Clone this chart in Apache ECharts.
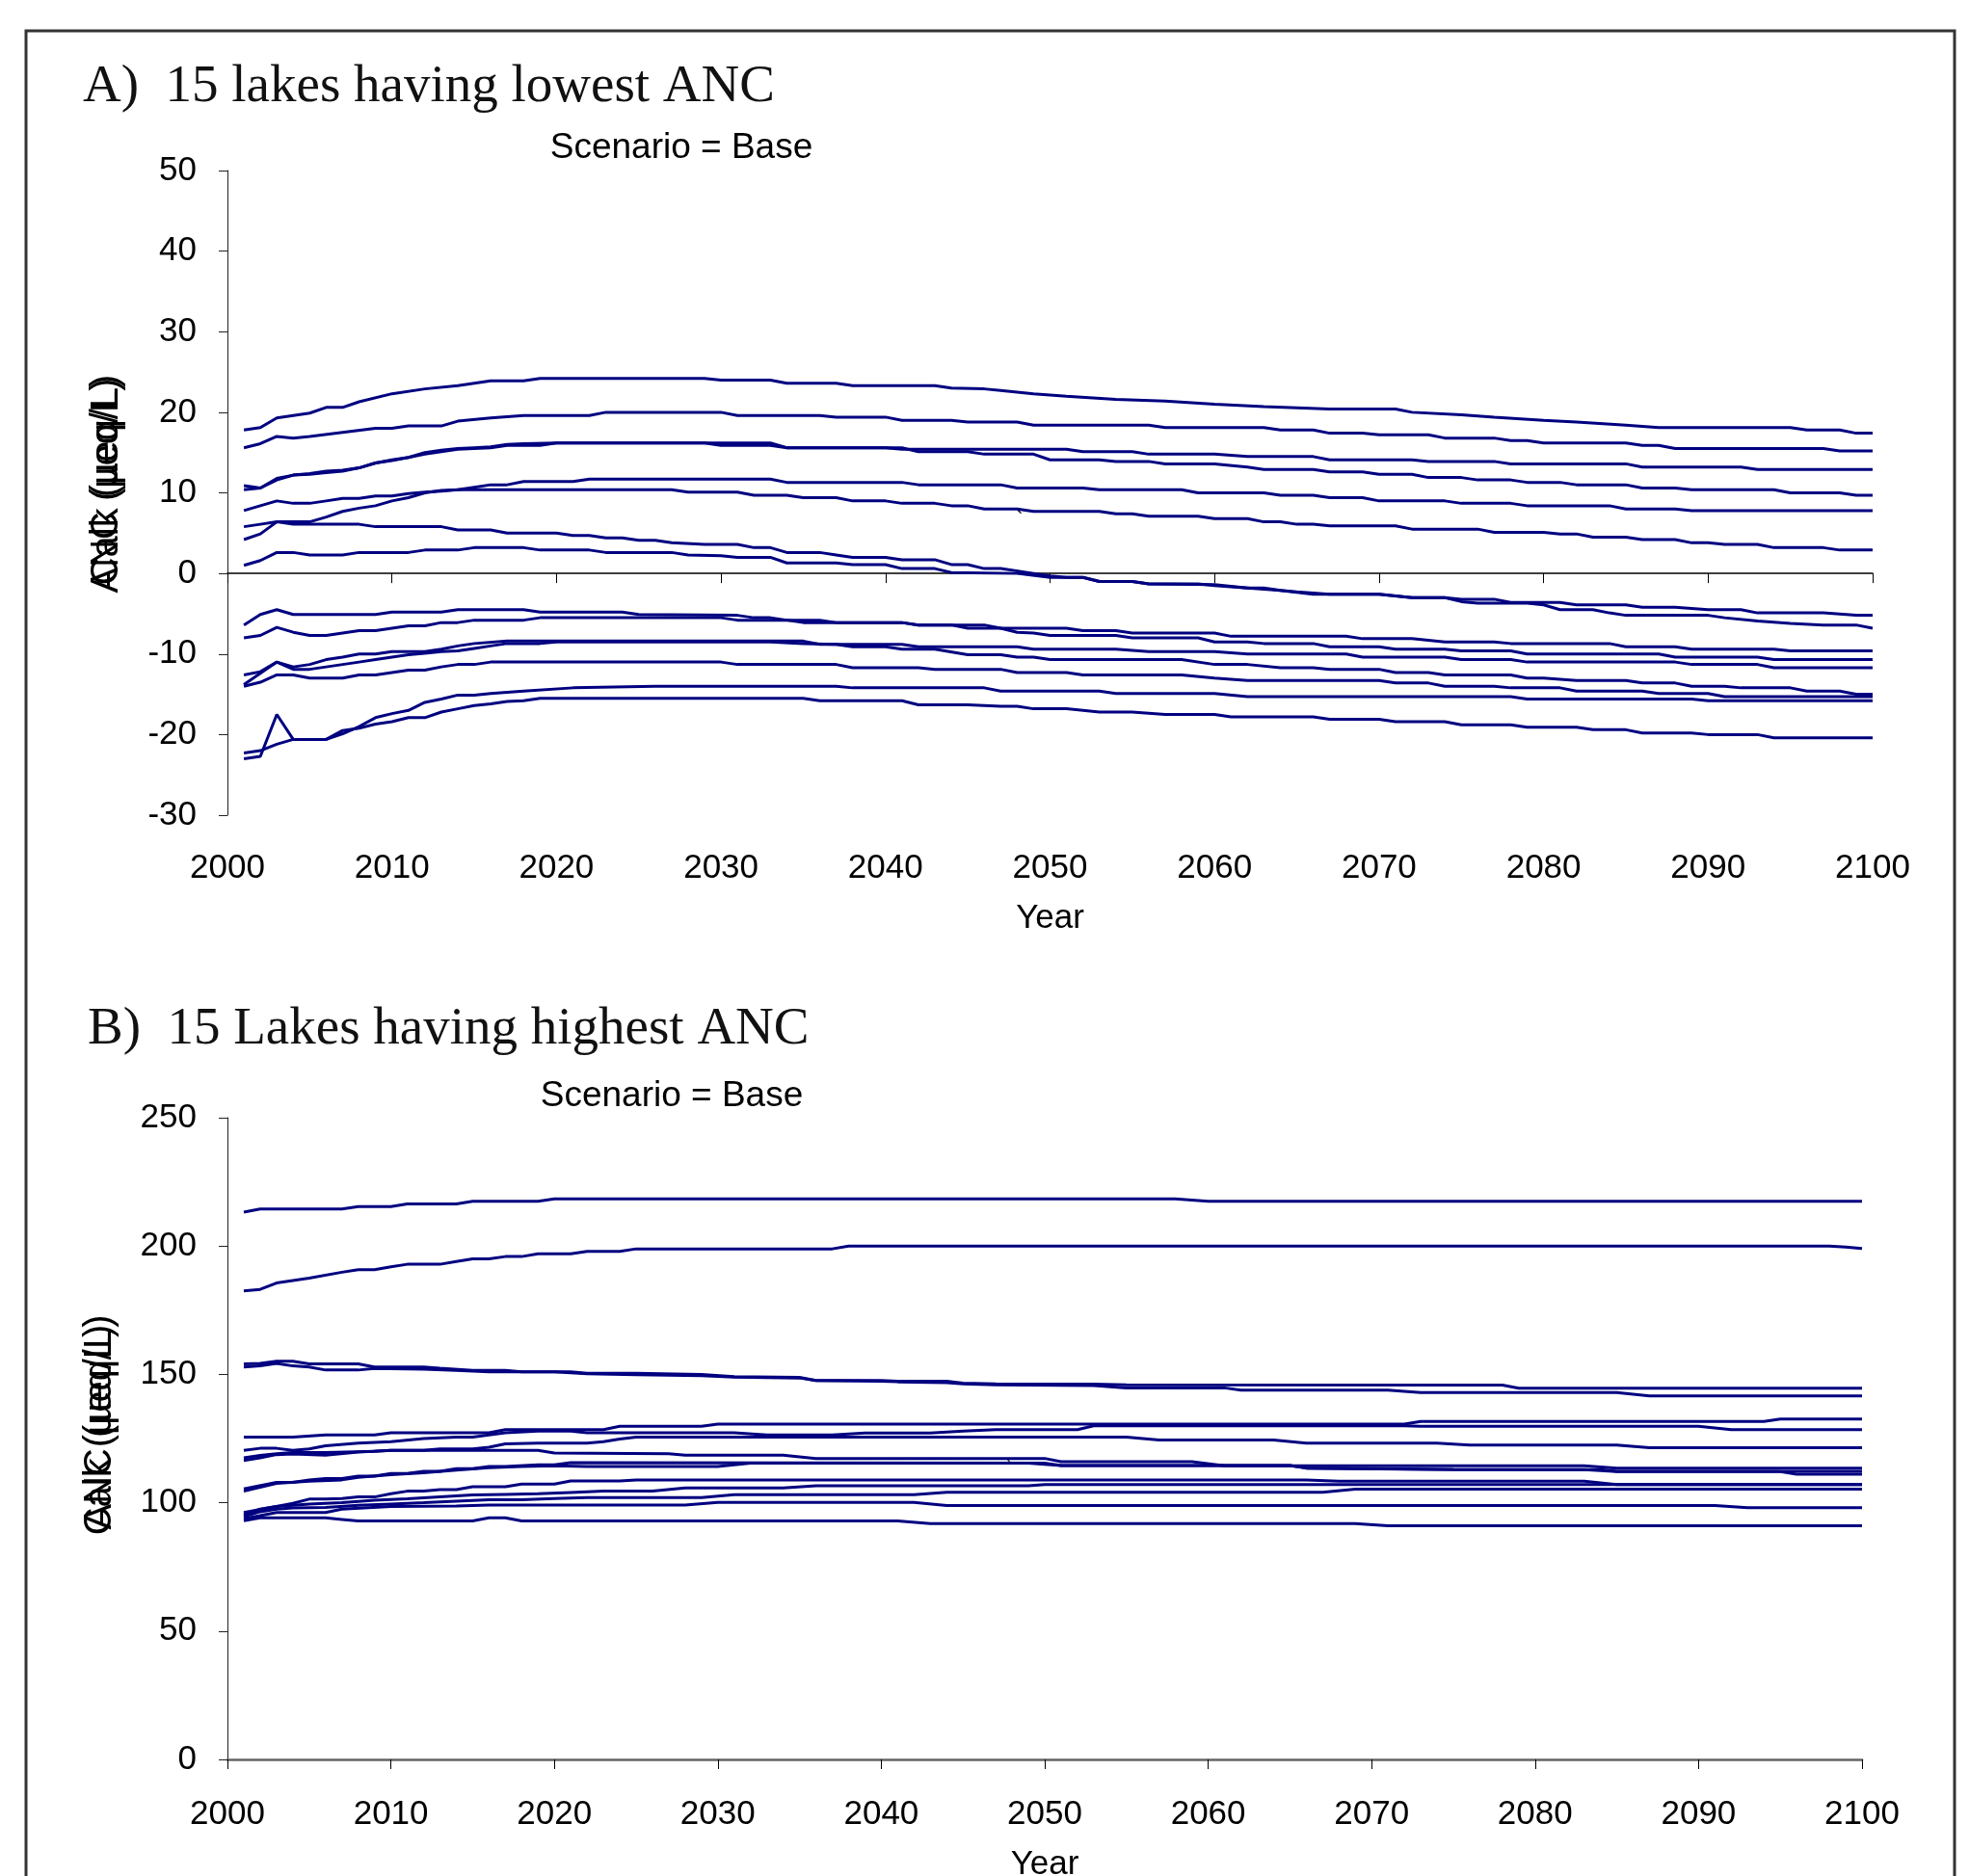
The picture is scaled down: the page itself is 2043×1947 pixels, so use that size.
<!DOCTYPE html>
<html><head><meta charset="utf-8">
<script src="https://cdn.jsdelivr.net/npm/echarts@6/dist/echarts.min.js"></script>
<style>html,body{margin:0;padding:0;background:#fff}#c{width:2043px;height:1947px}</style>
</head><body><div id="c"></div><script>
// ---------- Panel A: 15 lakes having lowest ANC (year, ANC µeq/L) ----------
const lowAnc1 = [[2001,17.8],[2002,18.1],[2003,19.3],[2005,19.9],[2006,20.6],[2007,20.6],[2008,21.3],[2010,22.3],[2012,22.9],[2014,23.3],[2016,23.9],[2018,23.9],[2019,24.2],[2029,24.2],[2030,24.0],[2033,24.0],[2034,23.6],[2037,23.6],[2038,23.3],[2043,23.3],[2044,23.0],[2046,22.9],[2047,22.7],[2049,22.3],[2051,22.0],[2054,21.6],[2057,21.4],[2060,21.0],[2063,20.7],[2067,20.4],[2071,20.4],[2072,20.0],[2075,19.7],[2077,19.4],[2080,19.0],[2082,18.8],[2085,18.4],[2087,18.1],[2095,18.1],[2096,17.8],[2098,17.8],[2099,17.4],[2100,17.4]];
const lowAnc2 = [[2001,15.6],[2002,16.1],[2003,17.0],[2004,16.8],[2005,17.0],[2007,17.5],[2009,18.0],[2010,18.0],[2011,18.3],[2013,18.3],[2014,18.9],[2016,19.3],[2018,19.6],[2022,19.6],[2023,20.0],[2030,20.0],[2031,19.6],[2036,19.6],[2037,19.4],[2040,19.4],[2041,19.0],[2044,19.0],[2045,18.8],[2048,18.8],[2049,18.4],[2056,18.4],[2057,18.1],[2063,18.1],[2064,17.8],[2066,17.8],[2067,17.4],[2069,17.4],[2070,17.2],[2073,17.2],[2074,16.8],[2077,16.8],[2078,16.5],[2079,16.5],[2080,16.2],[2085,16.2],[2086,15.9],[2087,15.9],[2088,15.5],[2097,15.5],[2098,15.2],[2100,15.2]];
const lowAnc3 = [[2001,10.9],[2002,10.6],[2003,11.8],[2004,12.2],[2005,12.4],[2006,12.7],[2007,12.8],[2008,13.1],[2009,13.7],[2010,14.1],[2011,14.4],[2012,15.0],[2013,15.3],[2014,15.5],[2015,15.6],[2016,15.7],[2017,16.0],[2018,16.1],[2020,16.2],[2033,16.2],[2034,15.6],[2040,15.6],[2041,15.4],[2051,15.4],[2052,15.1],[2055,15.1],[2056,14.8],[2060,14.8],[2062,14.5],[2066,14.5],[2067,14.1],[2072,14.1],[2073,13.9],[2077,13.9],[2078,13.6],[2085,13.6],[2086,13.2],[2092,13.2],[2093,12.9],[2100,12.9]];
const lowAnc4 = [[2001,10.4],[2002,10.6],[2003,11.6],[2004,12.2],[2005,12.3],[2006,12.5],[2007,12.7],[2008,13.1],[2009,13.7],[2010,14.0],[2011,14.4],[2012,14.8],[2013,15.1],[2014,15.4],[2015,15.5],[2016,15.6],[2017,15.9],[2019,15.9],[2020,16.2],[2029,16.2],[2030,15.9],[2033,15.9],[2034,15.6],[2041,15.6],[2042,15.1],[2045,15.1],[2046,14.8],[2049,14.8],[2050,14.1],[2053,14.1],[2054,13.9],[2056,13.9],[2057,13.6],[2060,13.6],[2062,13.2],[2063,12.9],[2066,12.9],[2067,12.6],[2069,12.6],[2070,12.3],[2072,12.3],[2073,11.9],[2075,11.9],[2076,11.6],[2078,11.6],[2079,11.3],[2081,11.3],[2082,11.0],[2085,11.0],[2086,10.6],[2088,10.6],[2089,10.4],[2094,10.4],[2095,10.0],[2098,10.0],[2099,9.7],[2100,9.7]];
const lowAnc5 = [[2001,7.8],[2002,8.4],[2003,9.0],[2004,8.7],[2005,8.7],[2006,9.0],[2007,9.3],[2008,9.3],[2009,9.6],[2010,9.6],[2011,9.9],[2012,10.1],[2013,10.2],[2014,10.4],[2027,10.4],[2028,10.1],[2031,10.1],[2032,9.7],[2034,9.7],[2035,9.4],[2037,9.4],[2038,9.0],[2040,9.0],[2041,8.7],[2043,8.7],[2044,8.4],[2045,8.4],[2046,8.0],[2048,8.0],[2049,7.7],[2053,7.7],[2054,7.4],[2055,7.4],[2056,7.1],[2059,7.1],[2060,6.8],[2062,6.8],[2063,6.4],[2064,6.4],[2065,6.1],[2066,6.1],[2067,5.9],[2071,5.9],[2072,5.5],[2076,5.5],[2077,5.1],[2080,5.1],[2081,4.9],[2082,4.9],[2083,4.5],[2085,4.5],[2086,4.2],[2088,4.2],[2089,3.8],[2090,3.8],[2091,3.6],[2093,3.6],[2094,3.2],[2097,3.2],[2098,2.9],[2100,2.9]];
const lowAnc6 = [[2001,4.2],[2002,4.9],[2003,6.4],[2005,6.4],[2006,7.0],[2007,7.7],[2008,8.1],[2009,8.4],[2010,9.0],[2011,9.4],[2012,10.0],[2013,10.3],[2014,10.4],[2015,10.7],[2016,11.0],[2017,11.0],[2018,11.4],[2021,11.4],[2022,11.7],[2033,11.7],[2034,11.3],[2041,11.3],[2042,11.0],[2047,11.0],[2048,10.6],[2052,10.6],[2053,10.4],[2058,10.4],[2059,10.0],[2063,10.0],[2064,9.7],[2066,9.7],[2067,9.4],[2069,9.4],[2070,9.0],[2074,9.0],[2075,8.7],[2078,8.7],[2079,8.4],[2084,8.4],[2085,8.0],[2088,8.0],[2089,7.8],[2100,7.8]];
const lowAnc7 = [[2001,5.8],[2002,6.1],[2003,6.4],[2004,6.1],[2008,6.1],[2009,5.8],[2013,5.8],[2014,5.4],[2016,5.4],[2017,5.0],[2020,5.0],[2021,4.7],[2022,4.7],[2023,4.4],[2024,4.4],[2025,4.1],[2026,4.1],[2027,3.8],[2029,3.6],[2031,3.6],[2032,3.2],[2033,3.2],[2034,2.6],[2036,2.6],[2037,2.3],[2038,2.0],[2040,2.0],[2041,1.7],[2043,1.7],[2044,1.1],[2045,1.1],[2046,0.6],[2047,0.6],[2049,0.0],[2050,-0.3],[2051,-0.5],[2052,-0.5],[2053,-1.0],[2055,-1.0],[2056,-1.3],[2060,-1.4],[2062,-1.8],[2063,-1.8],[2064,-2.1],[2065,-2.3],[2067,-2.6],[2070,-2.6],[2072,-3.0],[2074,-3.0],[2075,-3.2],[2077,-3.2],[2078,-3.6],[2081,-3.6],[2082,-3.9],[2085,-3.9],[2086,-4.2],[2088,-4.2],[2090,-4.5],[2092,-4.5],[2093,-4.9],[2097,-4.9],[2099,-5.2],[2100,-5.2]];
const lowAnc8 = [[2001,1.0],[2002,1.6],[2003,2.6],[2004,2.6],[2005,2.3],[2007,2.3],[2008,2.6],[2011,2.6],[2012,2.9],[2014,2.9],[2015,3.2],[2018,3.2],[2019,2.9],[2022,2.9],[2023,2.6],[2027,2.6],[2028,2.3],[2030,2.2],[2031,2.0],[2033,2.0],[2034,1.3],[2037,1.3],[2038,1.1],[2040,1.1],[2041,0.6],[2043,0.6],[2044,0.1],[2048,0.0],[2050,-0.5],[2052,-0.5],[2053,-1.0],[2055,-1.0],[2056,-1.3],[2059,-1.3],[2060,-1.5],[2062,-1.8],[2064,-2.1],[2066,-2.6],[2070,-2.6],[2072,-3.0],[2074,-3.0],[2075,-3.5],[2076,-3.7],[2079,-3.7],[2080,-3.9],[2081,-4.5],[2083,-4.5],[2084,-4.9],[2085,-5.2],[2090,-5.2],[2091,-5.5],[2093,-5.9],[2095,-6.2],[2097,-6.4],[2099,-6.4],[2100,-6.8]];
const lowAnc9 = [[2001,-6.4],[2002,-5.1],[2003,-4.5],[2004,-5.1],[2009,-5.1],[2010,-4.8],[2013,-4.8],[2014,-4.5],[2018,-4.5],[2019,-4.8],[2024,-4.8],[2025,-5.1],[2031,-5.2],[2032,-5.5],[2033,-5.5],[2034,-5.8],[2035,-6.1],[2041,-6.1],[2042,-6.4],[2046,-6.4],[2047,-6.8],[2051,-6.8],[2052,-7.1],[2054,-7.1],[2055,-7.4],[2060,-7.4],[2061,-7.8],[2068,-7.8],[2069,-8.1],[2072,-8.1],[2074,-8.5],[2077,-8.5],[2078,-8.7],[2084,-8.7],[2085,-9.1],[2088,-9.1],[2089,-9.4],[2094,-9.4],[2095,-9.6],[2100,-9.6]];
const lowAnc10 = [[2001,-8.0],[2002,-7.7],[2003,-6.7],[2004,-7.3],[2005,-7.7],[2006,-7.7],[2007,-7.4],[2008,-7.1],[2009,-7.1],[2010,-6.8],[2011,-6.5],[2012,-6.5],[2013,-6.1],[2014,-6.1],[2015,-5.8],[2018,-5.8],[2019,-5.5],[2030,-5.5],[2031,-5.8],[2036,-5.8],[2037,-6.1],[2041,-6.1],[2042,-6.4],[2044,-6.4],[2045,-6.8],[2047,-6.8],[2048,-7.3],[2049,-7.4],[2050,-7.7],[2054,-7.7],[2055,-8.0],[2059,-8.0],[2060,-8.5],[2062,-8.5],[2063,-8.7],[2066,-8.7],[2067,-9.1],[2070,-9.1],[2071,-9.4],[2074,-9.4],[2075,-9.6],[2078,-9.6],[2079,-10.0],[2087,-10.0],[2088,-10.4],[2093,-10.4],[2094,-10.7],[2100,-10.7]];
const lowAnc11 = [[2001,-12.6],[2002,-12.2],[2003,-11.0],[2004,-11.6],[2005,-11.3],[2006,-10.7],[2007,-10.4],[2008,-10.0],[2009,-10.0],[2010,-9.7],[2012,-9.7],[2013,-9.4],[2014,-9.0],[2015,-8.7],[2017,-8.4],[2035,-8.4],[2036,-8.8],[2041,-8.8],[2042,-9.1],[2048,-9.1],[2049,-9.4],[2054,-9.4],[2056,-9.7],[2060,-9.7],[2062,-10.0],[2068,-10.0],[2069,-10.4],[2074,-10.4],[2075,-10.7],[2078,-10.7],[2079,-11.0],[2088,-11.0],[2089,-11.3],[2093,-11.3],[2094,-11.7],[2100,-11.7]];
const lowAnc12 = [[2001,-13.8],[2002,-12.4],[2003,-11.0],[2004,-11.9],[2005,-11.9],[2006,-11.6],[2007,-11.3],[2008,-11.0],[2009,-10.7],[2010,-10.4],[2011,-10.1],[2012,-9.9],[2013,-9.7],[2014,-9.6],[2015,-9.3],[2016,-9.0],[2017,-8.7],[2019,-8.7],[2020,-8.5],[2033,-8.5],[2035,-8.7],[2037,-8.8],[2038,-9.1],[2040,-9.1],[2041,-9.4],[2043,-9.4],[2045,-10.1],[2047,-10.1],[2048,-10.4],[2049,-10.4],[2050,-10.7],[2058,-10.7],[2060,-11.3],[2062,-11.3],[2064,-11.7],[2066,-11.7],[2067,-11.9],[2070,-11.9],[2071,-12.3],[2073,-12.3],[2074,-12.6],[2078,-12.6],[2079,-13.0],[2080,-13.0],[2082,-13.3],[2085,-13.3],[2086,-13.6],[2088,-13.6],[2089,-14.0],[2091,-14.0],[2092,-14.2],[2095,-14.2],[2096,-14.6],[2098,-14.6],[2099,-15.0],[2100,-15.0]];
const lowAnc13 = [[2001,-14.0],[2002,-13.5],[2003,-12.6],[2004,-12.6],[2005,-13.0],[2007,-13.0],[2008,-12.6],[2009,-12.6],[2010,-12.3],[2011,-12.0],[2012,-12.0],[2013,-11.6],[2014,-11.3],[2015,-11.3],[2016,-11.0],[2030,-11.0],[2031,-11.3],[2037,-11.3],[2038,-11.7],[2042,-11.7],[2043,-11.9],[2047,-11.9],[2048,-12.3],[2051,-12.3],[2052,-12.6],[2058,-12.6],[2060,-13.0],[2062,-13.3],[2070,-13.3],[2071,-13.6],[2073,-13.6],[2074,-14.0],[2077,-14.0],[2078,-14.2],[2081,-14.2],[2082,-14.6],[2086,-14.6],[2087,-14.9],[2090,-14.9],[2091,-15.3],[2100,-15.3]];
const lowAnc14 = [[2001,-22.3],[2002,-22.0],[2003,-21.2],[2004,-20.6],[2006,-20.6],[2007,-19.5],[2008,-19.2],[2009,-18.7],[2010,-18.4],[2011,-17.9],[2012,-17.9],[2013,-17.2],[2014,-16.8],[2015,-16.4],[2016,-16.2],[2017,-15.9],[2018,-15.8],[2019,-15.5],[2035,-15.5],[2036,-15.8],[2041,-15.8],[2042,-16.3],[2045,-16.3],[2047,-16.5],[2048,-16.5],[2049,-16.8],[2051,-16.8],[2053,-17.2],[2055,-17.2],[2057,-17.5],[2060,-17.5],[2061,-17.8],[2066,-17.8],[2067,-18.1],[2070,-18.1],[2071,-18.4],[2074,-18.4],[2075,-18.8],[2078,-18.8],[2079,-19.1],[2082,-19.1],[2083,-19.4],[2085,-19.4],[2086,-19.8],[2089,-19.8],[2090,-20.0],[2093,-20.0],[2094,-20.4],[2100,-20.4]];
const lowAnc15 = [[2001,-23.0],[2002,-22.7],[2003,-17.5],[2004,-20.6],[2006,-20.6],[2007,-19.9],[2008,-19.0],[2009,-17.9],[2010,-17.4],[2011,-17.0],[2012,-16.0],[2013,-15.6],[2014,-15.1],[2015,-15.1],[2016,-14.9],[2018,-14.6],[2021,-14.2],[2026,-14.0],[2037,-14.0],[2038,-14.2],[2046,-14.2],[2047,-14.6],[2053,-14.6],[2054,-14.9],[2060,-14.9],[2062,-15.3],[2078,-15.3],[2079,-15.6],[2089,-15.6],[2090,-15.8],[2100,-15.8]];

// ---------- Panel B: 15 lakes having highest ANC ----------
const highAnc1 = [[2001,213.2],[2002,214.4],[2007,214.4],[2008,215.4],[2010,215.4],[2011,216.4],[2014,216.4],[2015,217.4],[2019,217.4],[2020,218.4],[2058,218.4],[2060,217.4],[2100,217.4]];
const highAnc2 = [[2001,182.5],[2002,183.1],[2003,185.6],[2005,187.5],[2007,189.8],[2008,190.8],[2009,190.8],[2010,191.9],[2011,192.9],[2013,192.9],[2014,194.0],[2015,195.0],[2016,195.0],[2017,195.9],[2018,195.9],[2019,197.0],[2021,197.0],[2022,197.9],[2024,197.9],[2025,198.9],[2037,198.9],[2038,200.0],[2098,200.0],[2099,199.6],[2100,199.0]];
const highAnc3 = [[2001,154.1],[2002,154.3],[2003,155.1],[2004,155.1],[2005,154.1],[2008,154.1],[2009,152.9],[2012,152.9],[2013,152.4],[2015,151.6],[2017,151.6],[2018,151.0],[2021,151.0],[2022,150.4],[2025,150.4],[2029,150.0],[2031,149.1],[2035,148.8],[2036,147.6],[2040,147.6],[2041,147.3],[2044,147.3],[2045,146.6],[2047,146.3],[2053,146.2],[2055,145.9],[2078,145.8],[2079,144.6],[2100,144.6]];
const highAnc4 = [[2001,152.9],[2002,153.3],[2003,154.3],[2004,153.3],[2005,152.9],[2006,151.7],[2008,151.7],[2009,152.3],[2012,152.0],[2014,151.6],[2016,151.0],[2020,151.0],[2022,150.2],[2025,149.9],[2029,149.5],[2031,148.9],[2035,148.6],[2036,147.6],[2040,147.3],[2041,147.1],[2044,146.8],[2045,146.3],[2047,145.9],[2053,145.6],[2055,144.75],[2061,144.75],[2062,143.9],[2071,143.9],[2073,142.9],[2085,142.9],[2087,141.6],[2100,141.6]];
const highAnc5 = [[2001,125.6],[2004,125.6],[2006,126.4],[2009,126.4],[2010,127.25],[2016,127.25],[2017,128.5],[2023,128.5],[2024,129.75],[2029,129.75],[2030,130.6],[2072,130.6],[2073,131.7],[2094,131.7],[2095,132.6],[2100,132.6]];
const highAnc6 = [[2001,120.4],[2002,121.2],[2003,121.2],[2004,120.4],[2005,121.0],[2006,122.2],[2008,123.2],[2010,123.8],[2012,125.0],[2014,125.6],[2015,125.6],[2016,126.4],[2017,127.25],[2019,127.9],[2021,127.9],[2022,127.25],[2031,127.25],[2033,126.4],[2037,126.4],[2039,127.2],[2043,127.2],[2045,127.9],[2047,128.5],[2052,128.5],[2053,130.0],[2072,130.0],[2073,129.75],[2090,129.75],[2092,128.5],[2100,128.5]];
const highAnc7 = [[2001,117.5],[2002,118.4],[2003,119.1],[2004,119.6],[2006,119.6],[2009,120.0],[2010,120.4],[2012,120.4],[2013,121.0],[2015,121.0],[2016,121.6],[2017,122.9],[2019,123.25],[2022,123.25],[2023,123.75],[2024,124.8],[2025,125.6],[2055,125.6],[2057,124.4],[2064,124.4],[2066,123.25],[2074,123.25],[2076,122.5],[2085,122.5],[2087,121.4],[2100,121.4]];
const highAnc8 = [[2001,116.5],[2002,117.5],[2003,118.75],[2004,119.0],[2006,118.5],[2008,119.75],[2010,120.4],[2019,120.4],[2020,119.4],[2027,119.1],[2028,118.5],[2034,118.5],[2036,117.25],[2050,117.25],[2051,116.0],[2059,116.0],[2061,114.4],[2083,114.4],[2085,113.5],[2100,113.5]];
const highAnc9 = [[2001,105.4],[2003,107.9],[2004,107.9],[2005,108.9],[2006,109.4],[2007,109.4],[2008,110.4],[2009,110.4],[2010,111.4],[2011,111.4],[2012,112.25],[2013,112.25],[2014,113.25],[2015,113.25],[2016,114.1],[2017,114.1],[2019,114.75],[2020,114.75],[2021,115.6],[2050,115.4],[2051,114.5],[2065,114.5],[2066,113.5],[2075,113.0],[2083,112.9],[2085,112.1],[2095,112.1],[2096,111.1],[2100,111.1]];
const highAnc10 = [[2001,104.5],[2003,107.5],[2005,108.4],[2007,108.9],[2008,109.9],[2010,110.9],[2012,111.7],[2014,112.7],[2016,113.6],[2018,114.1],[2020,114.4],[2022,114.1],[2030,114.1],[2032,115.4],[2049,115.4],[2051,114.5],[2065,114.5],[2066,113.5],[2075,112.9],[2084,112.9],[2085,112.2],[2100,112.2]];
const highAnc11 = [[2001,96.2],[2003,98.5],[2004,99.75],[2005,101.4],[2006,101.4],[2007,101.6],[2008,102.25],[2009,102.25],[2010,103.5],[2011,104.5],[2012,104.5],[2013,105.1],[2014,105.1],[2015,106.25],[2017,106.25],[2018,107.25],[2020,107.25],[2021,108.5],[2024,108.5],[2025,108.9],[2066,108.9],[2068,108.4],[2083,108.4],[2085,107.1],[2100,107.1]];
const highAnc12 = [[2001,95.4],[2002,97.5],[2003,98.5],[2005,99.5],[2007,100.0],[2009,101.0],[2011,101.5],[2013,102.25],[2015,103.0],[2017,103.25],[2019,103.5],[2021,104.0],[2023,104.5],[2026,104.5],[2028,105.75],[2034,105.75],[2036,106.6],[2049,106.6],[2050,107.1],[2100,107.1]];
const highAnc13 = [[2001,94.6],[2002,96.5],[2003,97.5],[2004,98.0],[2006,98.2],[2008,99.0],[2010,99.5],[2012,100.0],[2014,100.6],[2016,101.2],[2018,101.2],[2020,101.6],[2022,102.0],[2029,102.0],[2031,103.1],[2042,103.1],[2044,104.1],[2067,104.1],[2069,105.25],[2100,105.25]];
const highAnc14 = [[2001,93.8],[2002,95.0],[2003,96.2],[2006,96.2],[2007,97.5],[2010,98.5],[2014,98.7],[2016,99.1],[2028,99.1],[2030,100.1],[2042,100.1],[2044,98.9],[2091,98.9],[2093,98.1],[2100,98.1]];
const highAnc15 = [[2001,93.0],[2002,94.1],[2006,94.1],[2007,93.5],[2008,92.9],[2015,92.9],[2016,94.1],[2017,94.1],[2018,92.9],[2041,92.9],[2043,91.9],[2069,91.9],[2071,91.0],[2100,91.0]];

// ---------- Text ----------
const titleA = 'A)  15 lakes having lowest ANC';
const titleB = 'B)  15 Lakes having highest ANC';
const scenarioText = 'Scenario = Base';
const yNameA = 'ANC (µeq/L)';
const yNameB = 'Calk (µeq/L)';
const xName = 'Year';

const lowSeries = [lowAnc1,lowAnc2,lowAnc3,lowAnc4,lowAnc5,lowAnc6,lowAnc7,lowAnc8,lowAnc9,lowAnc10,lowAnc11,lowAnc12,lowAnc13,lowAnc14,lowAnc15];
const highSeries = [highAnc1,highAnc2,highAnc3,highAnc4,highAnc5,highAnc6,highAnc7,highAnc8,highAnc9,highAnc10,highAnc11,highAnc12,highAnc13,highAnc14,highAnc15];

const NAVY = '#000080';
const SANS = '"Liberation Sans", Arial, sans-serif';
const SERIF = '"Liberation Serif", "Times New Roman", serif';

const mkSeries = (list, xi, yi) => list.map(d => ({
  type: 'line', xAxisIndex: xi, yAxisIndex: yi, data: d,
  showSymbol: false, symbol: 'none', silent: true,
  lineStyle: { color: NAVY, width: 3 }, itemStyle: { color: NAVY }
}));

const labelStyle = { fontSize: 35, color: '#000', fontFamily: SANS, formatter: v => String(v) };
const nameStyle = { fontSize: 35, color: '#000', fontFamily: SANS };

const chart = echarts.init(document.getElementById('c'), null, { renderer: 'canvas', width: 2043, height: 1947 });
chart.setOption({
  animation: false,
  backgroundColor: '#fff',
  grid: [
    { left: 236, top: 177, width: 1707, height: 669, outerBoundsMode: 'none', containLabel: false },
    { left: 236, top: 1160, width: 1696, height: 666, outerBoundsMode: 'none', containLabel: false }
  ],
  xAxis: [
    { gridIndex: 0, type: 'value', min: 2000, max: 2100, interval: 10, position: 'bottom',
      axisLine: { show: true, onZero: true, lineStyle: { color: '#000', width: 1.5 } },
      axisTick: { show: true, length: 10, lineStyle: { color: '#000', width: 1 } },
      axisLabel: { show: false }, splitLine: { show: false } },
    { gridIndex: 0, type: 'value', min: 2000, max: 2100, interval: 10, position: 'bottom',
      axisLine: { show: false, onZero: false }, axisTick: { show: false },
      axisLabel: Object.assign({ margin: 38 }, labelStyle), splitLine: { show: false },
      name: xName, nameLocation: 'middle', nameGap: 90, nameTextStyle: nameStyle },
    { gridIndex: 1, type: 'value', min: 2000, max: 2100, interval: 10, position: 'bottom',
      axisLine: { show: true, onZero: true, lineStyle: { color: '#666', width: 2.5 } },
      axisTick: { show: true, length: 10, lineStyle: { color: '#000', width: 1 } },
      axisLabel: Object.assign({ margin: 40 }, labelStyle), splitLine: { show: false },
      name: xName, nameLocation: 'middle', nameGap: 92, nameTextStyle: nameStyle }
  ],
  yAxis: [
    { gridIndex: 0, type: 'value', min: -30, max: 50, interval: 10,
      axisLine: { show: true, onZero: false, lineStyle: { color: '#222', width: 1 } },
      axisTick: { show: true, length: 9, lineStyle: { color: '#222', width: 1 } },
      axisLabel: Object.assign({ margin: 32 }, labelStyle), splitLine: { show: false } },
    { gridIndex: 1, type: 'value', min: 0, max: 250, interval: 50,
      axisLine: { show: true, onZero: false, lineStyle: { color: '#222', width: 1 } },
      axisTick: { show: true, length: 9, lineStyle: { color: '#222', width: 1 } },
      axisLabel: Object.assign({ margin: 32 }, labelStyle), splitLine: { show: false } }
  ],
  graphic: [
    { type: 'rect', silent: true, shape: { x: 27, y: 32, width: 2001, height: 2000 },
      style: { fill: 'none', stroke: '#333', lineWidth: 3 } },
    { type: 'text', x: 86, y: 91, silent: true,
      style: { text: titleA, font: '55px ' + SERIF, fill: '#111', textAlign: 'left', textVerticalAlign: 'middle' } },
    { type: 'text', x: 91, y: 1069, silent: true,
      style: { text: titleB, font: '55px ' + SERIF, fill: '#111', textAlign: 'left', textVerticalAlign: 'middle' } },
    { type: 'text', x: 707, y: 154, silent: true,
      style: { text: scenarioText, font: '37px ' + SANS, fill: '#000', textAlign: 'center', textVerticalAlign: 'middle' } },
    { type: 'text', x: 697, y: 1138, silent: true,
      style: { text: scenarioText, font: '37px ' + SANS, fill: '#000', textAlign: 'center', textVerticalAlign: 'middle' } },
    // overlapping axis titles, as in the original
    { type: 'text', x: 111, y: 504, rotation: Math.PI / 2, silent: true,
      style: { text: yNameA, font: '40px ' + SANS, fill: '#000', textAlign: 'center', textVerticalAlign: 'middle' } },
    { type: 'text', x: 111, y: 498, rotation: Math.PI / 2, silent: true,
      style: { text: yNameB, font: '40px ' + SANS, fill: '#000', textAlign: 'center', textVerticalAlign: 'middle' } },
    { type: 'text', x: 104, y: 1484, rotation: Math.PI / 2, silent: true,
      style: { text: yNameB, font: '40px ' + SANS, fill: '#000', textAlign: 'center', textVerticalAlign: 'middle' } },
    { type: 'text', x: 104, y: 1476, rotation: Math.PI / 2, silent: true,
      style: { text: yNameA, font: '40px ' + SANS, fill: '#000', textAlign: 'center', textVerticalAlign: 'middle' } },
    { type: 'text', x: 1058, y: 540, silent: true,
      style: { text: '`', font: '22px ' + SANS, fill: '#000', textAlign: 'center', textVerticalAlign: 'middle' } },
    { type: 'text', x: 1046, y: 1524, silent: true,
      style: { text: '`', font: '22px ' + SANS, fill: '#000', textAlign: 'center', textVerticalAlign: 'middle' } }
  ],
  series: mkSeries(lowSeries, 0, 0).concat(mkSeries(highSeries, 2, 1))
});
</script></body></html>
